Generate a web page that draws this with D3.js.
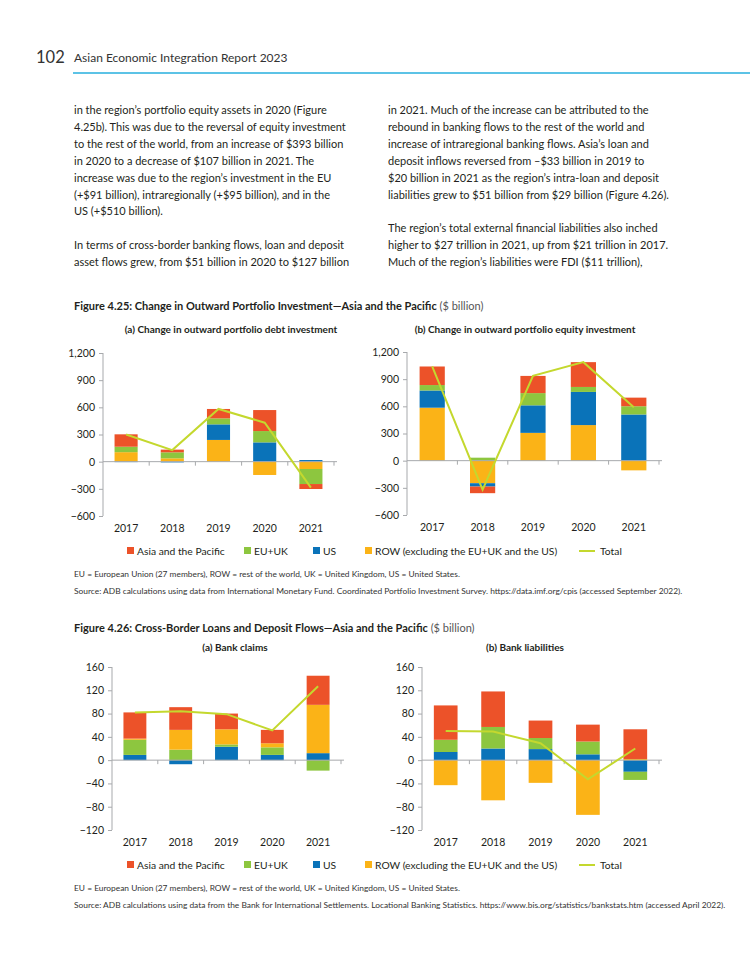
<!DOCTYPE html>
<html>
<head>
<meta charset="utf-8">
<script src="https://cdn.jsdelivr.net/npm/d3@7"></script>
<style>
  body { margin: 0; background: #fff; }
  svg { display: block; font-family: Lato, "Open Sans", sans-serif; }
</style>
</head>
<body>
<svg width="750" height="971"></svg>
<script>
// data
const years = ["2017", "2018", "2019", "2020", "2021"];
const seriesKeys = ["asia", "eu", "us", "row"];
const seriesNames = ["Asia and the Pacific", "EU+UK", "US", "ROW (excluding the EU+UK and the US)"];
const totalName = "Total";

// Figure 4.25 (a) debt
const debtAsia = [137, 30, 104, 232, -55];
const debtEU = [60, 66, 66, 125, -166];
const debtUS = [-5, -8, 172, 213, 18];
const debtROW = [105, 37, 240, -147, -81];
const debtTotal = [300, 128, 582, 430, -287];

// Figure 4.25 (b) equity
const equityAsia = [205, -73, 190, 274, 95];
const equityEU = [60, 33, 135, 55, 91];
const equityUS = [190, -37, 304, 366, 510];
const equityROW = [585, -249, 307, 393, -107];
const equityTotal = [1040, -320, 936, 1088, 589];

// Figure 4.26 (a) bank claims
const claimsAsia = [45, 39, 27, 23, 50];
const claimsEU = [26, 18, 4, 13, -18];
const claimsUS = [9, -7, 23, 9, 12];
const claimsROW = [2, 34, 26, 7, 83];
const claimsTotal = [82, 84, 79, 51, 127];

// Figure 4.26 (b) bank liabilities
const liabAsia = [59, 61, 30, 29, 51];
const liabEU = [21, 37, 19, 22, -14];
const liabUS = [14, 20, 19, 10, -20];
const liabROW = [-43, -69, -39, -94, 2];
const liabTotal = [50, 49, 29, -33, 20];

const ticks425 = [-600, -300, 0, 300, 600, 900, 1200];
const ticks426 = [-120, -80, -40, 0, 40, 80, 120, 160];

const colors = { asia: "#ec5229", eu: "#8dc63f", us: "#0a73b9", row: "#fbb317" };
const lineColor = "#c4d82e";
const textColor = "#231f20";

const svg = d3.select("svg");

// ---- page header ----
svg.append("text").attr("x", 36).attr("y", 63).attr("font-size", 16.5).attr("fill", "#333").text("102");
svg.append("text").attr("x", 74).attr("y", 62).attr("font-size", 12).attr("fill", "#333")
  .text("Asian Economic Integration Report 2023");
svg.append("line").attr("x1", 73).attr("x2", 750).attr("y1", 73).attr("y2", 73)
  .attr("stroke", "#5cc3e6").attr("stroke-width", 2);

// ---- body text ----
const leftLines = [
  "in the region’s portfolio equity assets in 2020 (Figure",
  "4.25b). This was due to the reversal of equity investment",
  "to the rest of the world, from an increase of $393 billion",
  "in 2020 to a decrease of $107 billion in 2021. The",
  "increase was due to the region’s investment in the EU",
  "(+$91 billion), intraregionally (+$95 billion), and in the",
  "US (+$510 billion).",
  "",
  "In terms of cross-border banking flows, loan and deposit",
  "asset flows grew, from $51 billion in 2020 to $127 billion"
];
const rightLines = [
  "in 2021. Much of the increase can be attributed to the",
  "rebound in banking flows to the rest of the world and",
  "increase of intraregional banking flows. Asia’s loan and",
  "deposit inflows reversed from –$33 billion in 2019 to",
  "$20 billion in 2021 as the region’s intra-loan and deposit",
  "liabilities grew to $51 billion from $29 billion (Figure 4.26).",
  "",
  "The region’s total external financial liabilities also inched",
  "higher to $27 trillion in 2021, up from $21 trillion in 2017.",
  "Much of the region’s liabilities were FDI ($11 trillion),"
];
function bodyText(lines, x) {
  svg.append("g").selectAll("text").data(lines).join("text")
    .attr("x", x).attr("y", (d, i) => 114 + i * 16.9)
    .attr("font-size", 11).attr("fill", textColor).text(d => d);
}
bodyText(leftLines, 74);
bodyText(rightLines, 388);

// ---- figure titles ----
function figTitle(y, bold, rest) {
  const t = svg.append("text").attr("x", 74).attr("y", y).attr("font-size", 11).attr("fill", textColor);
  t.append("tspan").attr("font-weight", "bold").text(bold);
  t.append("tspan").attr("fill", "#555").text(" " + rest);
}
function subTitle(x, y, s) {
  svg.append("text").attr("x", x).attr("y", y).attr("text-anchor", "middle")
    .attr("font-size", 10).attr("font-weight", "bold").attr("fill", textColor).text(s);
}

figTitle(310, "Figure 4.25: Change in Outward Portfolio Investment—Asia and the Pacific", "($ billion)");
subTitle(231, 333, "(a) Change in outward portfolio debt investment");
subTitle(525, 333, "(b) Change in outward portfolio equity investment");

figTitle(632, "Figure 4.26: Cross-Border Loans and Deposit Flows—Asia and the Pacific", "($ billion)");
subTitle(235, 651, "(a) Bank claims");
subTitle(525, 651, "(b) Bank liabilities");

// ---- chart drawing ----
function buildRows(asia, eu, us, row) {
  return years.map((y, i) => ({ year: y, asia: asia[i], eu: eu[i], us: us[i], row: row[i] }));
}

function drawChart(cfg) {
  const g = svg.append("g");
  const x = d3.scaleBand().domain(years).range([cfg.x0, cfg.x1]).paddingInner(0.5).paddingOuter(0.25);
  const y = d3.scaleLinear().domain(cfg.domain).range([cfg.yBottom, cfg.yTop]);

  const stacked = d3.stack().keys(cfg.order).offset(d3.stackOffsetDiverging)(cfg.rows);

  g.selectAll("g.series").data(stacked).join("g")
    .attr("fill", d => colors[d.key])
    .selectAll("rect").data(d => d).join("rect")
    .attr("x", d => x(d.data.year))
    .attr("width", x.bandwidth())
    .attr("y", d => y(Math.max(d[0], d[1])))
    .attr("height", d => Math.abs(y(d[0]) - y(d[1])));

  // y axis
  const yAxis = g.append("g").attr("transform", `translate(${cfg.x0},0)`)
    .call(d3.axisLeft(y).tickValues(cfg.ticks).tickSize(4).tickPadding(4).tickFormat(d3.format(",")));
  yAxis.select(".domain").attr("stroke", "#a7a9ac").attr("d", `M0,${cfg.yTop}V${cfg.yBottom}`);
  yAxis.selectAll(".tick line").attr("stroke", "#a7a9ac");
  yAxis.selectAll("text").attr("font-size", 10.5).attr("fill", textColor).attr("font-family", "Lato, sans-serif");

  // zero line with ticks at band edges
  const step = x.step();
  const edges = d3.range(years.length + 1).map(i => cfg.x0 + i * step);
  g.append("line").attr("x1", cfg.x0).attr("x2", cfg.x1 + 3).attr("y1", y(0)).attr("y2", y(0))
    .attr("stroke", "#a7a9ac");
  g.selectAll("line.edge").data(edges.slice(1)).join("line")
    .attr("x1", d => d).attr("x2", d => d).attr("y1", y(0)).attr("y2", y(0) + 4)
    .attr("stroke", "#a7a9ac");

  // category labels
  g.selectAll("text.cat").data(years).join("text")
    .attr("x", d => x(d) + x.bandwidth() / 2)
    .attr("y", cfg.yBottom + 16)
    .attr("text-anchor", "middle").attr("font-size", 10.5).attr("fill", textColor)
    .text(d => d);

  // total line
  const line = d3.line().x((d, i) => x(years[i]) + x.bandwidth() / 2).y(d => y(d));
  g.append("path").datum(cfg.total).attr("d", line)
    .attr("fill", "none").attr("stroke", lineColor).attr("stroke-width", 2);
}

drawChart({
  x0: 103, x1: 334, yTop: 353, yBottom: 516, domain: [-600, 1200], ticks: ticks425,
  rows: buildRows(debtAsia, debtEU, debtUS, debtROW), order: ["row", "us", "eu", "asia"], total: debtTotal
});
drawChart({
  x0: 407, x1: 659, yTop: 352, yBottom: 515, domain: [-600, 1200], ticks: ticks425,
  rows: buildRows(equityAsia, equityEU, equityUS, equityROW), order: ["row", "us", "eu", "asia"], total: equityTotal
});
drawChart({
  x0: 112, x1: 341, yTop: 667, yBottom: 830, domain: [-120, 160], ticks: ticks426,
  rows: buildRows(claimsAsia, claimsEU, claimsUS, claimsROW), order: ["us", "eu", "row", "asia"], total: claimsTotal
});
drawChart({
  x0: 422, x1: 659, yTop: 667, yBottom: 830, domain: [-120, 160], ticks: ticks426,
  rows: buildRows(liabAsia, liabEU, liabUS, liabROW), order: ["us", "eu", "row", "asia"], total: liabTotal
});

// ---- legends ----
const legendX = [127, 244, 313, 365];
function legend(y) {
  const g = svg.append("g");
  seriesKeys.forEach((k, i) => {
    g.append("rect").attr("x", legendX[i]).attr("y", y - 8).attr("width", 7).attr("height", 7).attr("fill", colors[k]);
    g.append("text").attr("x", legendX[i] + 10).attr("y", y).attr("font-size", 10.3).attr("fill", textColor).text(seriesNames[i]);
  });
  g.append("line").attr("x1", 579).attr("x2", 595).attr("y1", y - 4).attr("y2", y - 4)
    .attr("stroke", lineColor).attr("stroke-width", 2);
  g.append("text").attr("x", 600).attr("y", y).attr("font-size", 10.3).attr("fill", textColor).text(totalName);
}
legend(555);
legend(869);

// ---- notes ----
function notes(y, lines) {
  svg.append("g").selectAll("text").data(lines).join("text")
    .attr("x", 74).attr("y", (d, i) => y + i * 17)
    .attr("font-size", 8.4).attr("fill", "#333").text(d => d);
}
notes(577, [
  "EU = European Union (27 members), ROW = rest of the world, UK = United Kingdom, US = United States.",
  "Source: ADB calculations using data from International Monetary Fund. Coordinated Portfolio Investment Survey. https://data.imf.org/cpis (accessed September 2022)."
]);
notes(891, [
  "EU = European Union (27 members), ROW = rest of the world, UK = United Kingdom, US = United States.",
  "Source: ADB calculations using data from the Bank for International Settlements. Locational Banking Statistics. https://www.bis.org/statistics/bankstats.htm (accessed April 2022)."
]);
</script>
</body>
</html>
